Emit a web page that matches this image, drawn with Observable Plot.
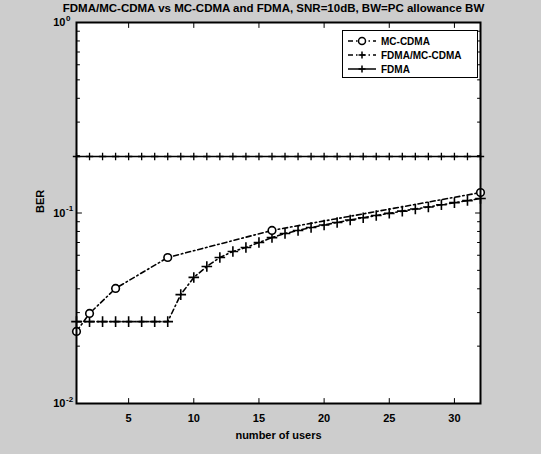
<!DOCTYPE html>
<html>
<head>
<meta charset="utf-8">
<script src="https://cdn.jsdelivr.net/npm/d3@7"></script>
<script src="https://cdn.jsdelivr.net/npm/@observablehq/plot@0.6"></script>
<style>
html,body{margin:0;padding:0;background:#cdcdcd;}
#wrap{position:relative;width:541px;height:454px;overflow:hidden;}
#legend{position:absolute;left:342px;top:30px;width:134px;height:46px;background:#fff;border:1.5px solid #000;
  font:bold 10px "Liberation Sans",Arial,sans-serif;color:#000;}
#legend .row{position:absolute;left:5px;height:12px;display:flex;align-items:center;}
#legend svg{margin-right:5px;}
</style>
</head>
<body>
<div id="wrap"><div id="chart"></div><div id="legend"></div></div>
<script>
// ---- data ----
const usersMC = [1, 2, 4, 8, 16, 32];
const berMC = [0.0239, 0.0297, 0.0402, 0.0584, 0.0810, 0.128];

const usersHybrid = [1,2,3,4,5,6,7,8,9,10,11,12,13,14,15,16,17,18,19,20,21,22,23,24,25,26,27,28,29,30,31,32];
const berHybrid = [0.0269,0.0269,0.0269,0.0269,0.0269,0.0269,0.0269,0.0269,0.0373,0.0459,0.0524,0.0584,0.0628,0.0659,0.0700,0.0743,
                   0.0780,0.0810,0.0839,0.0865,0.0892,0.0919,0.0945,0.0970,0.0996,0.1023,0.1050,0.1076,0.1104,0.1133,0.1162,0.1191];

const usersFDMA = [1,2,3,4,5,6,7,8,9,10,11,12,13,14,15,16,17,18,19,20,21,22,23,24,25,26,27,28,29,30,31,32];
const berFDMA = [0.198,0.198,0.198,0.198,0.198,0.198,0.198,0.198,0.198,0.198,0.198,0.198,0.198,0.198,0.198,0.198,
                 0.198,0.198,0.198,0.198,0.198,0.198,0.198,0.198,0.198,0.198,0.198,0.198,0.198,0.198,0.198,0.198];

const xTicks = [5, 10, 15, 20, 25, 30];
const yTicks = [0.01, 0.1, 1];
const yTickExponents = ["-2", "-1", "0"];
const yMinor = [0.02,0.03,0.04,0.05,0.06,0.07,0.08,0.09,0.2,0.3,0.4,0.5,0.6,0.7,0.8,0.9];

const seriesNames = ["MC-CDMA", "FDMA/MC-CDMA", "FDMA"];
const titleText = "FDMA/MC-CDMA vs MC-CDMA and FDMA, SNR=10dB, BW=PC allowance BW";
const xLabel = "number of users";
const yLabel = "BER";

// ---- tables ----
const mc = usersMC.map((u, i) => ({u, b: berMC[i]}));
const hy = usersHybrid.map((u, i) => ({u, b: berHybrid[i]}));
const fd = usersFDMA.map((u, i) => ({u, b: berFDMA[i]}));
const yLab = yTicks.map((v, i) => ({v, e: yTickExponents[i]}));

const tickShape = {draw(ctx, l) { ctx.moveTo(0, 0); ctx.lineTo(0, -l); }};
const dashDot = "5,3,1.5,3";

const chart = Plot.plot({
  width: 541, height: 454,
  marginLeft: 76, marginRight: 61, marginTop: 22, marginBottom: 51,
  style: {background: "transparent", fontFamily: "'Liberation Sans', Arial, sans-serif", fontSize: "11px", fontWeight: "bold", color: "#000"},
  x: {domain: [1, 32]},
  y: {type: "log", domain: [0.01, 1], axis: null},
  marks: [
    Plot.frame({fill: "white"}),
    Plot.axisX({ticks: xTicks, tickSize: 0, tickPadding: 11, tickFormat: d => String(d), label: null, fontSize: 11}),
    // y tick labels: base "10" and superscript exponent
    Plot.text(yLab, {y: "v", text: () => "10", frameAnchor: "left", dx: -11, textAnchor: "end", fontSize: 11, fontWeight: "bold"}),
    Plot.text(yLab, {y: "v", text: "e", frameAnchor: "left", dx: -10.5, dy: -4.5, textAnchor: "start", fontSize: 8, fontWeight: "bold"}),
    // inward ticks
    Plot.vector(xTicks, {x: d => d, frameAnchor: "bottom", rotate: 0, length: 5, anchor: "start", shape: tickShape, stroke: "black", strokeWidth: 1}),
    Plot.vector(xTicks, {x: d => d, frameAnchor: "top", rotate: 180, length: 5, anchor: "start", shape: tickShape, stroke: "black", strokeWidth: 1}),
    Plot.vector(yTicks, {y: d => d, frameAnchor: "left", rotate: 90, length: 5, anchor: "start", shape: tickShape, stroke: "black", strokeWidth: 1}),
    Plot.vector(yTicks, {y: d => d, frameAnchor: "right", rotate: -90, length: 5, anchor: "start", shape: tickShape, stroke: "black", strokeWidth: 1}),
    Plot.vector(yMinor, {y: d => d, frameAnchor: "left", rotate: 90, length: 3, anchor: "start", shape: tickShape, stroke: "black", strokeWidth: 1}),
    Plot.vector(yMinor, {y: d => d, frameAnchor: "right", rotate: -90, length: 3, anchor: "start", shape: tickShape, stroke: "black", strokeWidth: 1}),
    // series
    Plot.line(fd, {x: "u", y: "b", stroke: "black", strokeWidth: 1.6}),
    Plot.dot(fd, {x: "u", y: "b", symbol: "plus", r: 2.5, stroke: "black", strokeWidth: 1.3}),
    Plot.line(hy, {x: "u", y: "b", stroke: "black", strokeWidth: 1.6, strokeDasharray: dashDot}),
    Plot.dot(hy, {x: "u", y: "b", symbol: "plus", r: 3.5, stroke: "black", strokeWidth: 1.6}),
    Plot.line(mc, {x: "u", y: "b", stroke: "black", strokeWidth: 1.6, strokeDasharray: dashDot}),
    Plot.dot(mc, {x: "u", y: "b", symbol: "circle", r: 3.8, stroke: "black", fill: "white", strokeWidth: 1.6}),
    Plot.frame({stroke: "black", strokeWidth: 2}),
    // texts
    Plot.text([titleText], {frameAnchor: "top", dy: -14, dx: -5, fontSize: 11.5, fontWeight: "bold", lineAnchor: "middle"}),
    Plot.text([xLabel], {frameAnchor: "bottom", dy: 35, fontSize: 11, fontWeight: "bold"}),
    Plot.text([yLabel], {frameAnchor: "left", dx: -36, rotate: -90, fontSize: 11, fontWeight: "bold"})
  ]
});
document.getElementById("chart").appendChild(chart);

// legend
const legend = document.getElementById("legend");
const styles = [
  {dash: dashDot, sym: "circle"},
  {dash: dashDot, sym: "plus"},
  {dash: null, sym: "plus"}
];
seriesNames.forEach((name, i) => {
  const row = document.createElement("div");
  row.className = "row";
  row.style.top = (4 + i * 14) + "px";
  const s = styles[i];
  const sym = s.sym === "circle"
    ? '<circle cx="14" cy="6" r="3.5" fill="white" stroke="black" stroke-width="1.5"/>'
    : '<path d="M10.5,6H17.5M14,2.5V9.5" stroke="black" stroke-width="1.5"/>';
  row.innerHTML = '<svg width="28" height="12"><line x1="0" y1="6" x2="28" y2="6" stroke="black" stroke-width="1.5"' +
    (s.dash ? ' stroke-dasharray="' + s.dash + '"' : '') + '/>' + sym + '</svg><span>' + name + '</span>';
  legend.appendChild(row);
});
</script>
</body>
</html>
